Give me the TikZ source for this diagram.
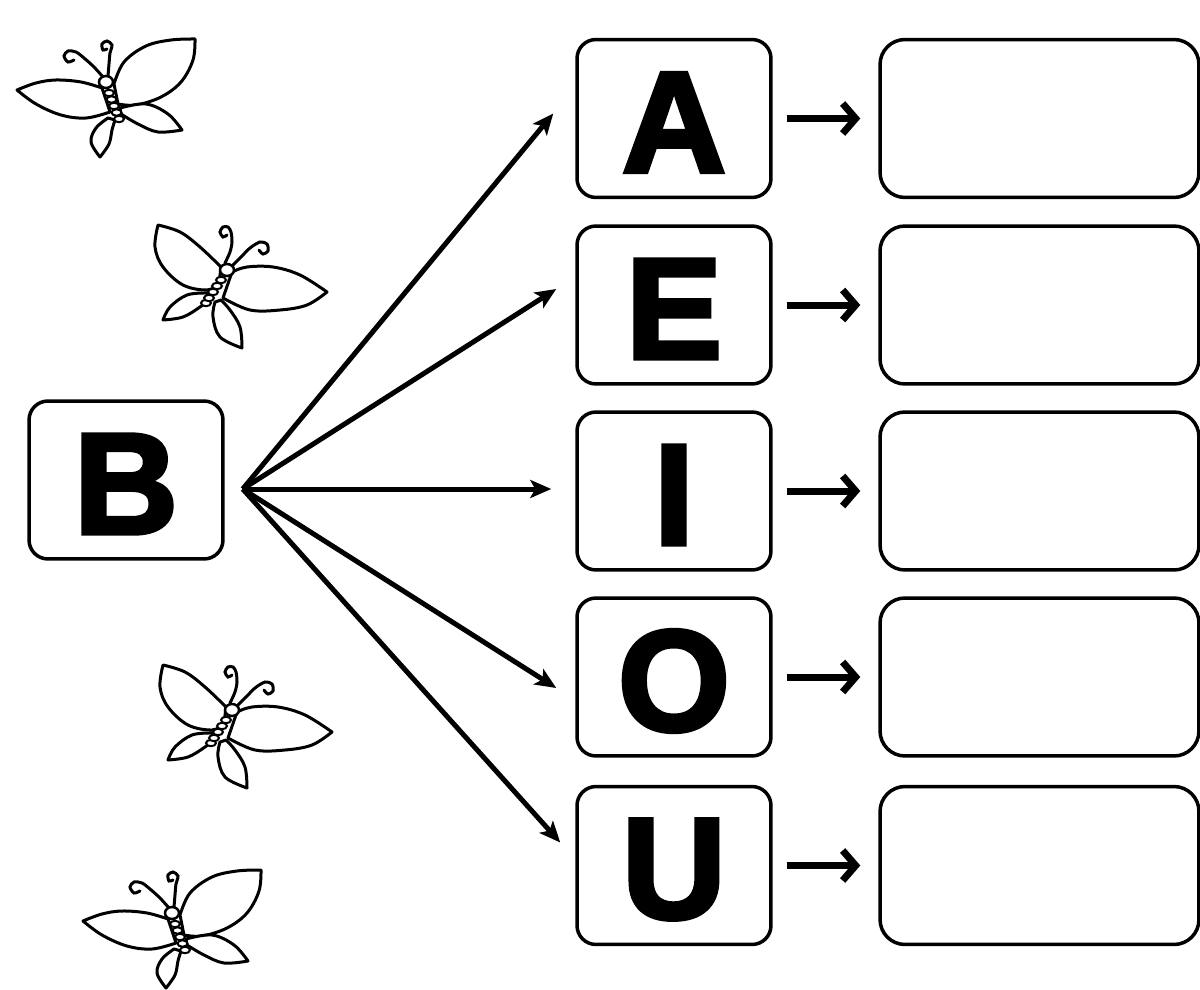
\documentclass[tikz,border=0pt]{standalone}
\usepackage{fontspec}
\setmainfont{Liberation Sans}
\newfontfamily\letterfont{Liberation Sans}[BoldFeatures={FakeBold=3}]
\usetikzlibrary{arrows.meta,calc}
\newcommand{\lowered}[1]{\raisebox{-0.08cm}[\height][\depth]{#1}}
\tikzset{
 letterbox/.style={draw, line width=0.07cm, rounded corners=0.38cm, minimum width=3.88cm, minimum height=3.16cm, inner sep=0pt, font=\letterfont\bfseries\fontsize{82}{82}\selectfont},
 answerbox/.style={draw, line width=0.07cm, rounded corners=0.5cm, minimum width=6.38cm, minimum height=3.16cm, inner sep=0pt},
 bigarrow/.style={line width=0.1cm, -{Stealth[length=0.42cm,width=0.36cm,inset=0.1cm]}},
 smallarrow/.style={line width=0.14cm, shorten <=0.28cm, shorten >=0.36cm, -{Straight Barb[length=0.26cm,width=0.6cm]}},
 wingline/.style={line width=0.06cm, line join=round, line cap=round, fill=white},
 antline/.style={line width=0.06cm, line cap=round},
 bflyA/.pic={
  \draw[wingline] plot[smooth, tension=0.6] coordinates {(8,2) (18,-20) (40,-36) (65,-42) (89,-43)} -- plot[smooth, tension=0.6] coordinates {(89,-43) (87,-22) (75,0) (55,15) (30,23) (12,22)} -- cycle;
  \draw[wingline] plot[smooth, tension=0.6] coordinates {(-4,6) (-25,0) (-50,-2) (-70,1) (-89,8)} -- plot[smooth, tension=0.6] coordinates {(-89,8) (-70,22) (-45,33) (-20,36) (4,30)} -- cycle;
  \draw[wingline] plot[smooth, tension=0.6] coordinates {(2,36) (-10,46) (-15,60) (-6,75)} -- plot[smooth, tension=0.6] coordinates {(-6,75) (3,62) (6,48) (9,38)} -- cycle;
  \draw[wingline] plot[smooth, tension=0.6] coordinates {(14,26) (40,22) (62,32) (76,48)} -- plot[smooth, tension=0.6] coordinates {(76,48) (52,50) (32,42) (15,32)} -- cycle;
  \draw[antline] plot[smooth] coordinates {(-3,-5) (-12,-15) (-22,-24) (-30,-30) (-38,-31) (-42,-26) (-38,-20) (-32,-22)};
  \draw[antline] plot[smooth] coordinates {(2,-6) (3,-18) (4,-29) (6,-37) (1,-41) (-4,-38) (-3,-32) (1,-33)};
  \foreach \p in {(13,37),(10.5,30.5),(8,24),(5.5,17.5),(3,11)}
   \draw[line width=0.04cm, fill=white] \p ellipse [x radius=5, y radius=3.2];
  \draw[line width=0.05cm, fill=white] (0,0) ellipse [x radius=7, y radius=6];
 },
 bflyB/.pic={
  \draw[wingline] plot[smooth, tension=0.6] coordinates {(-6,-3) (-27,-23) (-47,-38) (-69,-45)} -- plot[smooth, tension=0.6] coordinates {(-69,-45) (-72,-23) (-64,-3) (-44,15) (-20,20) (-8,14)} -- cycle;
  \draw[wingline] plot[smooth, tension=0.6] coordinates {(5,2) (20,-3) (46,-3) (73,5) (100,22)} -- plot[smooth, tension=0.6] coordinates {(100,22) (80,35) (53,40) (23,40) (-4,28)} -- cycle;
  \draw[wingline] plot[smooth, tension=0.6] coordinates {(-20,23) (-40,25) (-57,37) (-64,50)} -- plot[smooth, tension=0.6] coordinates {(-64,50) (-44,47) (-27,37) (-20,31)} -- cycle;
  \draw[wingline] plot[smooth, tension=0.6] coordinates {(-12,32) (-14,47) (-7,67) (15,78)} -- plot[smooth, tension=0.6] coordinates {(15,78) (13,57) (3,40) (-6,30)} -- cycle;
  \draw[antline] plot[smooth] coordinates {(-2,-7) (3,-18) (5,-28) (4,-38) (1,-43) (-4,-43) (-7,-38) (-4,-33) (0,-35)};
  \draw[antline] plot[smooth] coordinates {(6,-5) (15,-14) (23,-22) (33,-28) (40,-26) (41,-19) (36,-16) (32,-20)};
  \foreach \p in {(-21,33),(-18,28),(-14,22),(-10,16),(-6,10)}
   \draw[line width=0.04cm, fill=white] \p ellipse [x radius=5, y radius=3.2];
  \draw[line width=0.05cm, fill=white] (0,0) ellipse [x radius=7, y radius=6];
 }
}
\begin{document}
\begin{tikzpicture}[x=0.02cm,y=-0.02cm]
\useasboundingbox[fill=white] (0,0) rectangle (1200,990);
% butterflies
\pic at (106,82) {bflyA};
\pic at (227,270) {bflyB};
\pic at (232,710) {bflyB};
\pic at (172,913) {bflyA};
% start letter
\node[letterbox] (B) at (126,480) {\lowered{B}};
% vowels
\node[letterbox] (A) at (674,118.5) {\lowered{A}};
\node[letterbox] (E) at (674,305) {\lowered{E}};
\node[letterbox] (I) at (674,491) {\lowered{I}};
\node[letterbox] (O) at (674,677) {\lowered{O}};
\node[letterbox] (U) at (674,865.5) {\lowered{U}};
% answer boxes
\node[answerbox] (rA) at (1039.5,118.5) {};
\node[answerbox] (rE) at (1039.5,305) {};
\node[answerbox] (rI) at (1039.5,491) {};
\node[answerbox] (rO) at (1039.5,677) {};
\node[answerbox] (rU) at (1039.5,865.5) {};
% fan of arrows
\coordinate (Bsrc) at ($(B.east)+(18,9)$);
\coordinate (tA) at ($(A.west)+(-22,-5)$);
\coordinate (tE) at ($(E.west)+(-19,-16)$);
\coordinate (tI) at ($(I.west)+(-24,-2)$);
\coordinate (tO) at ($(O.west)+(-19,11)$);
\coordinate (tU) at ($(U.west)+(-15,-23)$);
\foreach \t in {tA,tE,tI,tO,tU}
  \draw[bigarrow] (Bsrc) -- (\t);
% small arrows
\foreach \v in {A,E,I,O,U}
  \draw[smallarrow] (\v.east) -- (r\v.west);
\end{tikzpicture}
\end{document}
